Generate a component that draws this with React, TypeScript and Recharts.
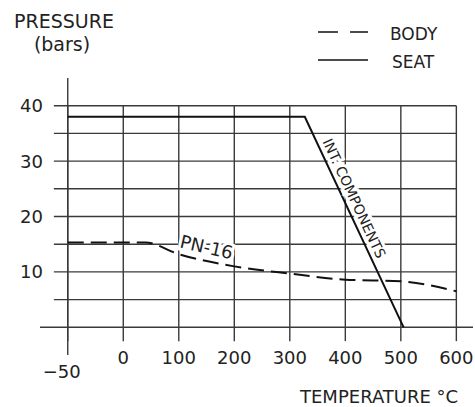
import React from "react"
import {
    LineChart,
    Line,
    XAxis,
    YAxis,
    CartesianGrid,
    ReferenceLine,
    ReferenceDot
} from "recharts"

// temperatures in °C, pressures in bars
const SEAT_TEMPS = [-50, 327, 505]
const SEAT_PRESSURE = [38, 38, 0]

const BODY_TEMPS = [-50, 40, 100, 200, 300, 400, 500, 600]
const BODY_PRESSURE = [15.3, 15.3, 13.2, 11.0, 9.7, 8.6, 8.3, 6.5]

const TEMP_TICKS = [-50, 0, 100, 200, 300, 400, 500, 600]
const PRESSURE_TICKS = [10, 20, 30, 40]
const GRID_PRESSURES = [5, 10, 15, 20, 25, 30, 35, 40]

const SERIES_NAMES = ["BODY", "SEAT"]

const Y_DOMAIN: [number, number] = [-5, 45]
const X_DOMAIN: [number, number] = [-150, 630]

const W = 475
const H = 407
const MARGIN = { top: 78, right: 2, bottom: 22, left: 10 }
const X_AXIS_H = 30
const Y_AXIS_W = 30
const PLOT_H = H - MARGIN.top - MARGIN.bottom - X_AXIS_H
const PLOT_W = W - MARGIN.left - MARGIN.right - Y_AXIS_W

const FONT = "'DejaVu Sans', sans-serif"
const INK = "#222"
const GRID = "#3a3a3a"

// the -50..0 span is drawn as wide as one 100° step
const toPlot = (t: number) => (t < 0 ? t * 2 : t)
const fromPlot = (v: number) => (v < 0 ? v / 2 : v)

const seatData = SEAT_TEMPS.map((t, i) => ({ x: toPlot(t), p: SEAT_PRESSURE[i] }))
const bodyData = BODY_TEMPS.map((t, i) => ({ x: toPlot(t), p: BODY_PRESSURE[i] }))

// pixel box of the grid (the lines themselves sit on the axes' ticks/values)
const rowOf = (v: number) => MARGIN.top + ((Y_DOMAIN[1] - v) / (Y_DOMAIN[1] - Y_DOMAIN[0])) * PLOT_H
const colOf = (v: number) => MARGIN.left + Y_AXIS_W + ((v - X_DOMAIN[0]) / (X_DOMAIN[1] - X_DOMAIN[0])) * PLOT_W
const GRID_TOP = rowOf(40)
const GRID_BOTTOM = rowOf(-2.5)
const GRID_LEFT = colOf(-125)
const GRID_RIGHT = colOf(600)

const XTick = (props: any) => {
    const { x, y, payload } = props
    const t = fromPlot(payload.value)
    const neg = t < 0
    return (
        <text
            x={neg ? x - 6 : x}
            y={neg ? y + 8.5 : y - 5.5}
            textAnchor="middle"
            dominantBaseline="central"
            fontFamily={FONT}
            fontSize={18}
            fill={INK}
        >
            {neg ? "\u2212" + Math.abs(t) : t}
        </text>
    )
}

const YTick = (props: any) => {
    const { x, y, payload } = props
    return (
        <text
            x={x + 11}
            y={y}
            textAnchor="end"
            dominantBaseline="central"
            fontFamily={FONT}
            fontSize={18}
            fill={INK}
        >
            {payload.value}
        </text>
    )
}

const rotatedLabel = (text: string, angle: number, size: number) => (props: any) => {
    const { cx, cy } = props
    return (
        <text
            x={cx}
            y={cy}
            textAnchor="middle"
            dominantBaseline="central"
            transform={`rotate(${angle} ${cx} ${cy})`}
            fontFamily={FONT}
            fontSize={size}
            fill={INK}
            stroke="#fff"
            strokeWidth={6}
            paintOrder="stroke"
        >
            {text}
        </text>
    )
}

export default function App() {
    return (
        <div style={{ position: "absolute", left: 0, top: 0, width: W, height: H, background: "#fff", fontFamily: FONT }}>
            <LineChart width={W} height={H} margin={MARGIN}>
                <XAxis
                    type="number"
                    dataKey="x"
                    domain={X_DOMAIN}
                    ticks={TEMP_TICKS.map(toPlot)}
                    allowDataOverflow
                    axisLine={false}
                    tickLine={false}
                    height={X_AXIS_H}
                    tick={<XTick />}
                    interval={0}
                />
                <YAxis
                    type="number"
                    domain={Y_DOMAIN}
                    ticks={PRESSURE_TICKS}
                    allowDataOverflow
                    axisLine={false}
                    tickLine={false}
                    width={Y_AXIS_W}
                    tick={<YTick />}
                    interval={0}
                />

                <CartesianGrid
                    horizontal={false}
                    vertical
                    syncWithTicks
                    y={GRID_TOP}
                    height={GRID_BOTTOM - GRID_TOP}
                    stroke={GRID}
                    strokeWidth={1.4}
                />
                <CartesianGrid
                    horizontal
                    vertical={false}
                    horizontalValues={GRID_PRESSURES}
                    x={GRID_LEFT}
                    width={GRID_RIGHT - GRID_LEFT}
                    stroke={GRID}
                    strokeWidth={1.4}
                />

                <ReferenceLine x={toPlot(-50)} stroke={GRID} strokeWidth={1.4} ifOverflow="visible" />
                <ReferenceLine y={0} stroke={GRID} strokeWidth={1.4} ifOverflow="visible" />

                <Line
                    data={bodyData}
                    dataKey="p"
                    name={SERIES_NAMES[0]}
                    type="monotone"
                    stroke="#111"
                    strokeWidth={2}
                    strokeDasharray="16 7"
                    dot={false}
                    isAnimationActive={false}
                />
                <Line
                    data={seatData}
                    dataKey="p"
                    name={SERIES_NAMES[1]}
                    type="linear"
                    stroke="#111"
                    strokeWidth={2}
                    dot={false}
                    isAnimationActive={false}
                />

                <ReferenceDot x={150} y={14.5} r={0} shape={rotatedLabel("PN-16", 13, 18)} ifOverflow="visible" />
                <ReferenceDot x={416} y={23.3} r={0} shape={rotatedLabel("INT. COMPONENTS", 65, 14)} ifOverflow="visible" />
            </LineChart>

            <svg
                width={W}
                height={H}
                style={{ position: "absolute", left: 0, top: 0, pointerEvents: "none" }}
            >
                <g fontFamily={FONT} fill={INK}>
                    <text x={64} y={21} fontSize={19} textAnchor="middle" dominantBaseline="central">PRESSURE</text>
                    <text x={62} y={44} fontSize={19} textAnchor="middle" dominantBaseline="central">(bars)</text>

                    <line x1={318} x2={368} y1={32} y2={32} stroke="#111" strokeWidth={1.6} strokeDasharray="20 12" />
                    <text x={390} y={33.5} fontSize={17} dominantBaseline="central">{SERIES_NAMES[0]}</text>
                    <line x1={318} x2={368} y1={60} y2={60} stroke="#111" strokeWidth={1.6} />
                    <text x={392} y={62} fontSize={17} dominantBaseline="central">{SERIES_NAMES[1]}</text>

                    <text x={300} y={396} fontSize={18} dominantBaseline="central">TEMPERATURE °C</text>
                </g>
            </svg>
        </div>
    )
}
